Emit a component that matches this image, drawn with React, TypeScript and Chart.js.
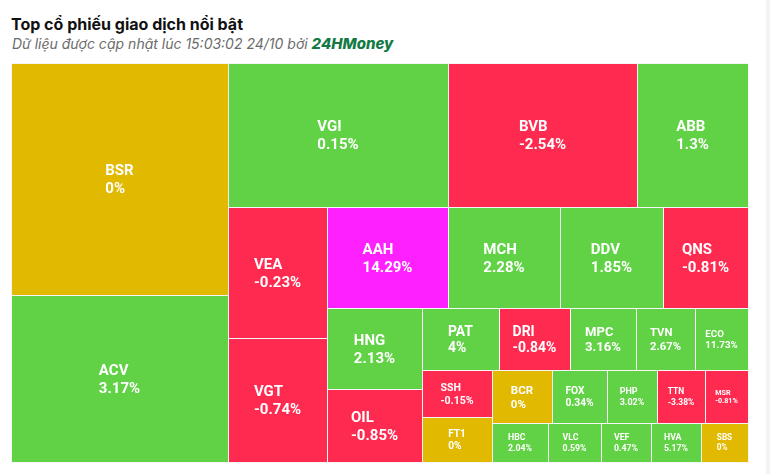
import React, { useEffect, useRef } from "react";
import { Chart, registerables } from "chart.js";

Chart.register(...registerables);

// ---- Data ----
const tickers = [
  "BSR", "ACV", "VGI", "BVB", "ABB", "VEA", "VGT", "AAH", "MCH", "DDV",
  "QNS", "HNG", "OIL", "PAT", "DRI", "MPC", "TVN", "ECO", "SSH", "FT1",
  "BCR", "FOX", "PHP", "TTN", "MSR", "HBC", "VLC", "VEF", "HVA", "SBS",
];
// traded value (relative size of each cell)
const tradeValues = [
  50344, 36239, 31680, 27216, 15984, 12969, 12276, 12221, 11312, 10403,
  8585, 7695, 6935, 4774, 4402, 4092, 3658, 3286, 3290, 3150,
  3180, 2915, 2650, 2544, 2279, 2184, 2067, 1950, 1950, 1833,
];
// price change, %
const changes = [
  0, 3.17, 0.15, -2.54, 1.3, -0.23, -0.74, 14.29, 2.28, 1.85,
  -0.81, 2.13, -0.85, 4, -0.84, 3.16, 2.67, 11.73, -0.15, 0,
  0, 0.34, 3.02, -3.38, -0.81, 2.04, 0.59, 0.47, 5.17, 0,
];
// tickers closing at their ceiling price
const ceilingTickers = ["AAH"];

const COLOR_UP = "#61d245";
const COLOR_DOWN = "#ff2a50";
const COLOR_FLAT = "#e0b900";
const COLOR_CEIL = "#ff20ff";

function colorFor(i: number): string {
  if (ceilingTickers.includes(tickers[i])) return COLOR_CEIL;
  const c = changes[i];
  if (c > 0) return COLOR_UP;
  if (c < 0) return COLOR_DOWN;
  return COLOR_FLAT;
}

// ---- Squarified treemap layout (alternating direction strips) ----
type Rect = { x: number; y: number; w: number; h: number };

class Group {
  height: number; width: number; plot: any; direction: number;
  total = 0; nW = 0; lW = 0; nH = 0; lH = 0; elArr: number[] = [];
  lP: any = { total: 0, lH: 0, nH: 0, lW: 0, nW: 0, nR: 0, lR: 0 };
  constructor(h: number, w: number, d: number, p: any) {
    this.height = h; this.width = w; this.direction = d; this.plot = p;
  }
  ar(w: number, h: number) { return Math.max(w / h, h / w); }
  addElement(el: number) {
    this.lP.total = this.elArr[this.elArr.length - 1];
    this.total += el;
    if (this.direction === 0) {
      this.lW = this.nW;
      this.lP.lH = this.lP.total / this.lW;
      this.lP.lR = this.ar(this.lW, this.lP.lH);
      this.nW = this.total / this.height;
      this.lP.nH = this.lP.total / this.nW;
      this.lP.nR = this.ar(this.nW, this.lP.nH);
    } else {
      this.lH = this.nH;
      this.lP.lW = this.lP.total / this.lH;
      this.lP.lR = this.ar(this.lP.lW, this.lH);
      this.nH = this.total / this.width;
      this.lP.nW = this.lP.total / this.nH;
      this.lP.nR = this.ar(this.lP.nW, this.nH);
    }
    this.elArr.push(el);
  }
  reset() { this.nW = 0; this.lW = 0; this.elArr = []; this.total = 0; }
}

function calcPoints(last: boolean, group: Group, out: Rect[]) {
  let gW = group.lW, gH = group.lH;
  const plot = group.plot;
  const end = group.elArr.length - 1;
  let keep = 0;
  if (last) { gW = group.nW; gH = group.nH; } else { keep = group.elArr[end]; }
  group.elArr.forEach((p, i) => {
    if (last || i < end) {
      let pW: number, pH: number;
      if (group.direction === 0) { pW = gW; pH = p / pW; } else { pH = gH; pW = p / pH; }
      out.push({ x: plot.x, y: plot.y, w: pW, h: pH });
      if (group.direction === 0) plot.y += pH; else plot.x += pW;
    }
  });
  group.reset();
  if (group.direction === 0) group.width -= gW; else group.height -= gH;
  plot.y = plot.parent.y + (plot.parent.height - group.height);
  plot.x = plot.parent.x + (plot.parent.width - group.width);
  group.direction = 1 - group.direction;
  if (!last) group.addElement(keep);
}

function layout(values: number[], W: number, H: number): Rect[] {
  const total = values.reduce((a, b) => a + b, 0);
  const parent = { x: 0, y: 0, width: W, height: H };
  const plot = { x: 0, y: 0, parent };
  const group = new Group(H, W, 0, plot);
  const out: Rect[] = [];
  values.forEach((v, i) => {
    group.addElement(W * H * (v / total));
    if (group.lP.nR > group.lP.lR) calcPoints(false, group, out);
    if (i === values.length - 1) calcPoints(true, group, out);
  });
  return out;
}

function fmtChange(c: number) {
  return `${c}%`;
}

const treemapPlugin = {
  id: "treemapCells",
  afterDatasetsDraw(chart: any) {
    const { ctx, chartArea, scales } = chart;
    const W = chartArea.right - chartArea.left;
    const H = chartArea.bottom - chartArea.top;
    const rects = layout(tradeValues, W, H);
    const xs = scales.x, ys = scales.y;
    ctx.save();
    rects.forEach((r, i) => {
      const x0 = Math.round(xs.getPixelForValue(r.x / W));
      const x1 = Math.round(xs.getPixelForValue((r.x + r.w) / W));
      const y0 = Math.round(ys.getPixelForValue(r.y / H));
      const y1 = Math.round(ys.getPixelForValue((r.y + r.h) / H));
      ctx.fillStyle = colorFor(i);
      ctx.fillRect(x0, y0, x1 - x0, y1 - y0);
      ctx.strokeStyle = "#f6f6f6";
      ctx.lineWidth = 1;
      ctx.strokeRect(x0 + 0.5, y0 + 0.5, x1 - x0, y1 - y0);
    });
    rects.forEach((r, i) => {
      const x0 = xs.getPixelForValue(r.x / W);
      const x1 = xs.getPixelForValue((r.x + r.w) / W);
      const y0 = ys.getPixelForValue(r.y / H);
      const y1 = ys.getPixelForValue((r.y + r.h) / H);
      const w = x1 - x0, h = y1 - y0;
      const lines = [tickers[i], fmtChange(changes[i])];
      const fs = Math.min(15, 0.225 * h, (w - 15) / 3.9);
      ctx.font = `bold ${fs}px Roboto`;
      const bw = Math.max(...lines.map((s) => ctx.measureText(s).width));
      const lh = fs * 1.2;
      const capH = fs * 0.71;
      const cx = (x0 + x1) / 2, cy = (y0 + y1) / 2;
      const left = cx - bw / 2;
      const base1 = cy - (capH + lh) / 2 + capH;
      ctx.fillStyle = "#ffffff";
      ctx.textBaseline = "alphabetic";
      ctx.textAlign = "left";
      ctx.fillText(lines[0], left, base1);
      ctx.fillText(lines[1], left, base1 + lh);
    });
    ctx.restore();
  },
};

export default function App() {
  const canvasRef = useRef<HTMLCanvasElement | null>(null);
  useEffect(() => {
    if (!canvasRef.current) return;
    const chart = new Chart(canvasRef.current, {
      type: "scatter",
      data: { datasets: [{ data: [], pointRadius: 0 }] },
      options: {
        animation: false,
        responsive: false,
        maintainAspectRatio: false,
        layout: { padding: 1 },
        plugins: { legend: { display: false }, tooltip: { enabled: false } },
        scales: {
          x: { type: "linear", min: 0, max: 1, display: false },
          y: { type: "linear", min: 0, max: 1, reverse: true, display: false },
        },
      },
      plugins: [treemapPlugin],
    });
    return () => chart.destroy();
  }, []);

  return (
    <div style={{ position: "absolute", left: 0, top: 0, width: 770, height: 474, background: "#fff", overflow: "hidden" }}>
      <div style={{ position: "absolute", left: 11, top: 14, fontFamily: "Inter", fontWeight: 700, fontSize: 16, lineHeight: "20px", color: "#111", whiteSpace: "nowrap" }}>
        Top cổ phiếu giao dịch nổi bật
      </div>
      <div style={{ position: "absolute", left: 12, top: 35, fontFamily: "Inter", fontStyle: "italic", fontSize: 14, lineHeight: "18px", color: "#6b6b6b", whiteSpace: "nowrap" }}>
        Dữ liệu được cập nhật lúc 15:03:02 24/10 bởi{" "}
        <span style={{ fontWeight: 800, color: "#137a45", fontSize: 15 }}>24HMoney</span>
      </div>
      <canvas ref={canvasRef} width={739} height={401} style={{ position: "absolute", left: 10, top: 62, width: 739, height: 401 }} />
      <div style={{ position: "absolute", left: 766, top: 0, width: 4, height: 474, background: "#f4f4f4" }} />
    </div>
  );
}
